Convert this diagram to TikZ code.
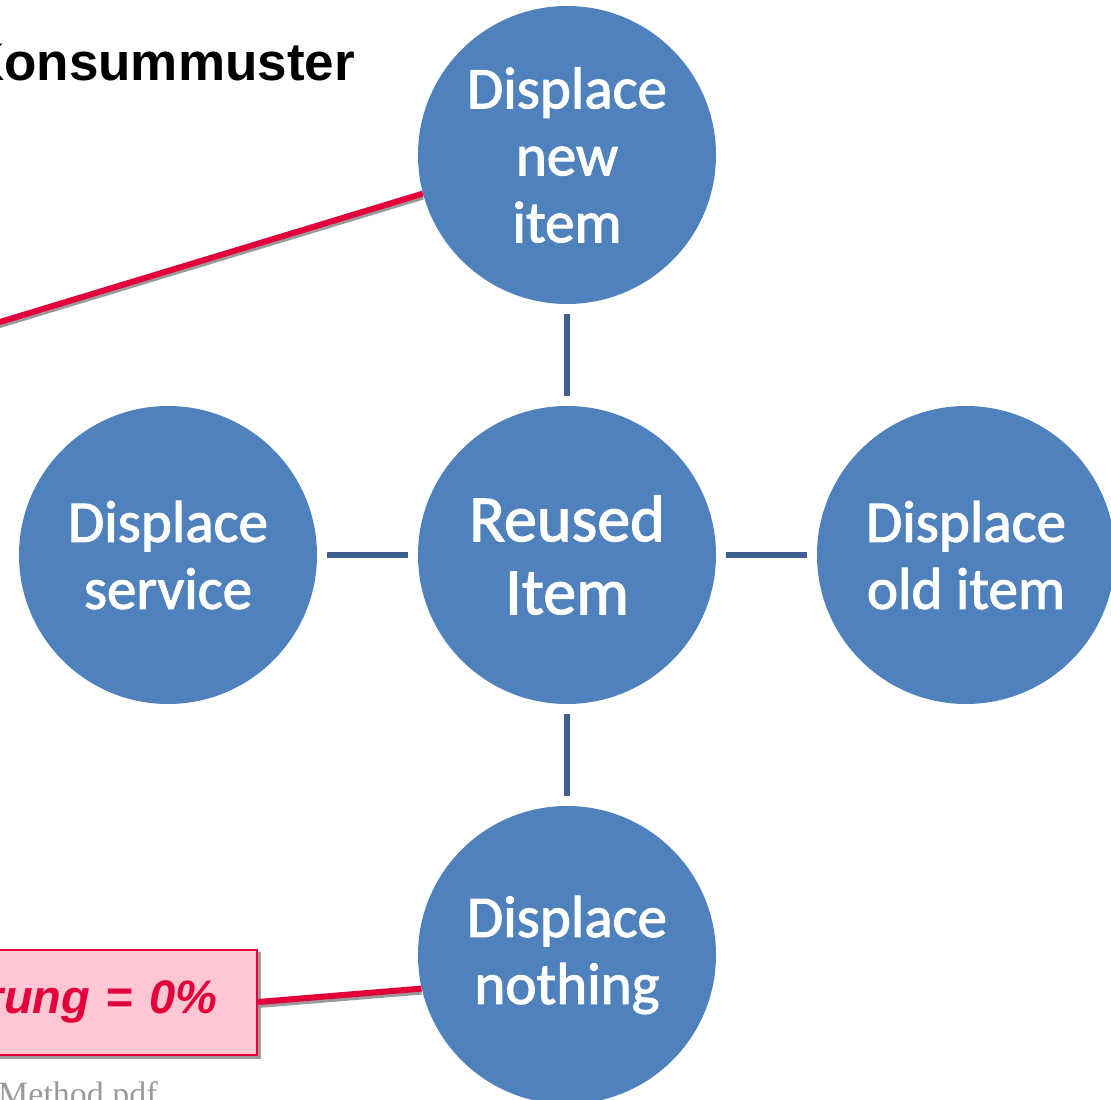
\documentclass[tikz,border=0pt]{standalone}
\usepackage{fontspec}
\setmainfont{Liberation Sans}
\newfontfamily\carlito[FakeBold=1.8]{Carlito}
\newfontfamily\arialf{Liberation Sans}
\newfontfamily\timesf{Liberation Serif}
\definecolor{cblue}{HTML}{4F81BD}
\definecolor{lblue}{HTML}{3D5F92}
\definecolor{cred}{HTML}{E3003A}
\definecolor{cpink}{HTML}{FFC7D3}
\definecolor{shgray}{HTML}{9A9A9A}
\tikzset{
  bubble/.style={circle, fill=cblue, minimum size=298pt, inner sep=0pt,
    text=white, align=center, font=\carlito\fontsize{59}{67}\selectfont},
  spoke/.style={draw=lblue, line width=6pt, shorten <=10pt, shorten >=10pt},
  redline/.style={draw=cred, line width=6pt},
  shadowline/.style={draw=shgray, line width=6pt},
}
\begin{document}
\begin{tikzpicture}[x=1pt,y=-1pt]
\useasboundingbox (0,0) rectangle (1111,1100);
% title
\node[anchor=base east, inner sep=0pt, font=\arialf\bfseries\fontsize{53}{60}\selectfont] (title) at (355,80) {Konsummuster};
% bubbles
\node[bubble] (top) at (567,155) {Displace\\new\\item};
\node[bubble, font=\carlito\fontsize{66}{73}\selectfont] (mid) at (567,555) {Reused\\Item};
\node[bubble] (left) at (168,555) {Displace\\service};
\node[bubble] (right) at (966,555) {Displace\\old item};
\node[bubble] (bot) at (567,955) {Displace\\nothing};
% spokes
\draw[spoke] (mid) -- (top);
\draw[spoke] (mid) -- (left);
\draw[spoke] (mid) -- (right);
\draw[spoke] (mid) -- (bot);
% red connector to top bubble
\coordinate (rfree) at (-5,323.5);
\draw[shadowline, transform canvas={yshift=-3pt}] (rfree) -- (top.195);
\draw[redline] (rfree) -- (top.195);
% pink box
\node[anchor=east, minimum width=330pt, minimum height=105pt, inner xsep=40pt, inner ysep=0pt,
      text width=250pt, align=right, fill=shgray, draw=shgray, line width=2pt] (boxsh) at (261,1005) {};
\node[anchor=east, minimum width=330pt, minimum height=105pt, inner xsep=40pt, inner ysep=0pt,
      text width=250pt, align=right, fill=cpink, draw=cred, line width=2pt, text=cred,
      font=\arialf\bfseries\itshape\fontsize{47}{54}\selectfont] (box) at (258,1002) {rung = 0\%};
\draw[shadowline, transform canvas={yshift=-3pt}] (box.east) -- (bot.193);
\draw[redline] (box.east) -- (bot.193);
% source text
\node[anchor=base west, inner sep=0pt, text=shgray, font=\timesf\fontsize{34}{38}\selectfont] (src) at (-2,1105) {Method.pdf};
\end{tikzpicture}
\end{document}
